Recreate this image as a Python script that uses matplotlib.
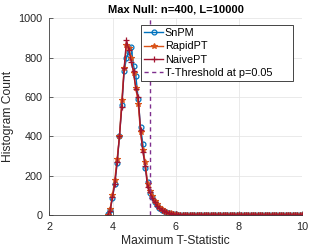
import numpy as np
import matplotlib
matplotlib.use("Agg")
import matplotlib.pyplot as plt

plt.rcParams['font.family'] = ['Liberation Sans', 'DejaVu Sans']

# bin layout (start, end, count)
bin_start, bin_end, n_bins = 3.85, 10.0, 84

snpm_head = [3, 25, 85, 160, 263, 402, 560, 730, 800, 830, 855, 760, 705, 590, 446, 360,
             237, 170, 112, 90, 65, 50, 38, 28, 20, 15, 10, 7, 5, 3, 2, 2]
rapid_head = [2, 30, 100, 180, 285, 400, 585, 745, 865, 850, 800, 720, 645, 565, 420, 330,
              270, 160, 120, 95, 70, 55, 40, 30, 22, 16, 11, 8, 5, 4, 2, 1]
naive_head = [1, 22, 90, 160, 270, 402, 550, 745, 890, 840, 780, 730, 640, 600, 430, 320,
              250, 140, 115, 88, 65, 48, 36, 27, 20, 14, 10, 7, 5, 3, 2, 1]
snpm_tail = [1, 1, 0, 1, 0, 0, 1, 0, 0, 0, 0, 1, 0, 0, 0, 0, 0, 0, 0, 0, 0, 0, 0, 0, 0, 0,
             0, 0, 0, 0, 0, 0, 0, 0, 0, 0, 0, 0, 0, 0, 0, 0, 0, 0, 0, 0, 0, 0, 0, 0, 0, 0]
rapid_tail = [1, 0, 1, 0, 0, 1, 0, 0, 0, 0, 0, 0, 0, 1, 0, 0, 0, 0, 0, 0, 0, 0, 0, 0, 0, 0,
              0, 0, 0, 0, 0, 0, 0, 0, 0, 0, 0, 0, 0, 0, 0, 0, 0, 0, 0, 0, 0, 0, 0, 0, 0, 0]
naive_tail = [1, 1, 0, 0, 1, 0, 0, 0, 1, 0, 0, 0, 0, 0, 0, 0, 0, 0, 0, 0, 0, 0, 0, 0, 0, 0,
              0, 0, 0, 0, 0, 0, 0, 0, 0, 0, 0, 0, 0, 0, 0, 0, 0, 0, 0, 0, 0, 0, 0, 0, 0, 0]
snpm = snpm_head + snpm_tail
rapidpt = rapid_head + rapid_tail
naivept = naive_head + naive_tail
threshold = 5.18

xticks = [2, 4, 6, 8, 10]
yticks = [0, 200, 400, 600, 800, 1000]

centers = np.linspace(bin_start, bin_end, n_bins)

fig = plt.figure(figsize=(3.32, 2.49), dpi=100)
ax = fig.add_axes([0.1485, 0.1365, 0.7615, 0.79])

ax.plot(centers, snpm, '-o', color='#0072BD', lw=1.0, ms=3.5, mfc='none', mew=0.9, label='SnPM')
ax.plot(centers, rapidpt, '-*', color='#D95319', lw=1.0, ms=4, mew=0.8, label='RapidPT')
ax.plot(centers, naivept, '-+', color='#A2142F', lw=1.0, ms=4.5, mew=0.9, label='NaivePT')
ax.axvline(threshold, color='#7E2F8E', ls='--', lw=1.0, dashes=(3, 2.5), label='T-Threshold at p=0.05')

ax.set_xlim(2, 10)
ax.set_ylim(0, 1000)
ax.set_xticks(xticks)
ax.set_yticks(yticks)
ax.grid(True, color='#e6e6e6', lw=0.6)
ax.set_axisbelow(True)
ax.tick_params(direction='in', length=3, width=0.5, labelsize=7.8, colors='#262626')
ax.tick_params(axis='x', pad=5)
ax.tick_params(axis='y', pad=5)
for s in ['top', 'right']:
    ax.spines[s].set_visible(False)
for s in ['left', 'bottom']:
    ax.spines[s].set_color('#404040')
    ax.spines[s].set_linewidth(0.6)

ax.set_xlabel('Maximum T-Statistic', fontsize=8.7, color='#262626', labelpad=2)
ax.set_ylabel('Histogram Count', fontsize=8.7, color='#262626', labelpad=3)
ax.set_title('Max Null: n=400, L=10000', fontsize=8, fontweight='bold', pad=4)

leg = ax.legend(loc='upper left', bbox_to_anchor=(0.363, 0.671, 0.601, 0.295), mode='expand',
                borderaxespad=0, fontsize=7.8, fancybox=False, framealpha=1, edgecolor='#262626',
                handlelength=1.7, handletextpad=0.2, labelspacing=0.3, borderpad=0.3)
leg.get_frame().set_linewidth(0.6)

fig.savefig('out.png', dpi=100)
